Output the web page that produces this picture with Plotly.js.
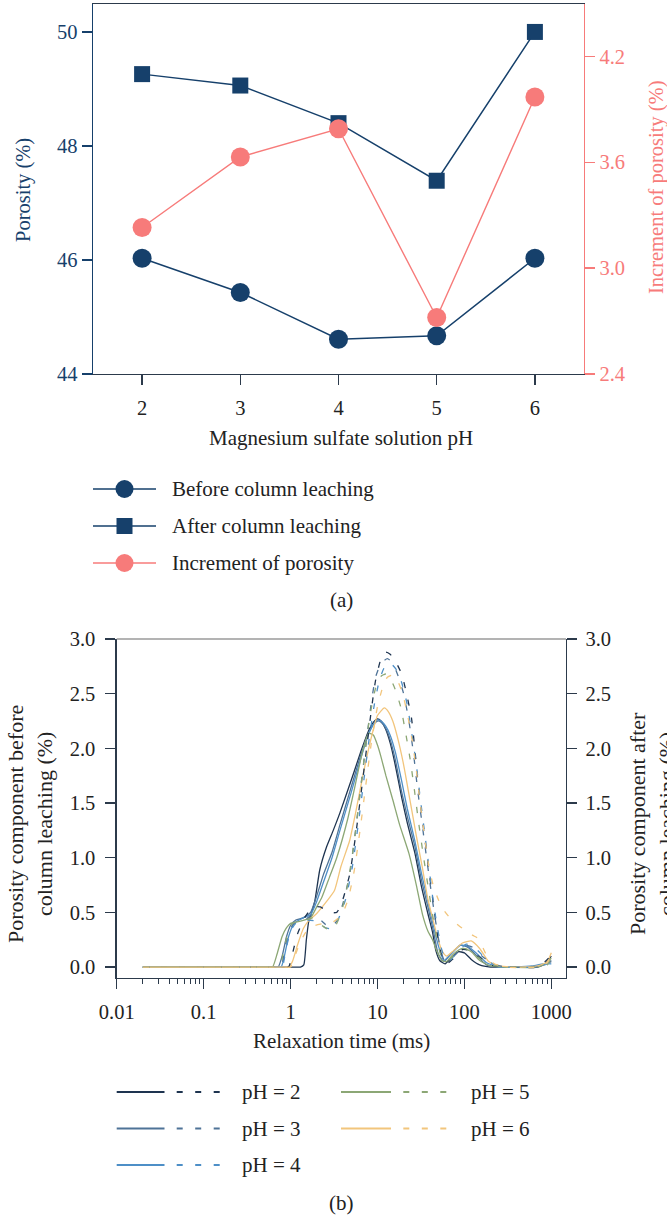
<!DOCTYPE html>
<html>
<head>
<meta charset="utf-8">
<script src="https://cdn.plot.ly/plotly-3.0.1.min.js"></script>
<style>
  html, body { margin: 0; padding: 0; background: #ffffff; }
  #chart { width: 667px; height: 1219px; }
</style>
</head>
<body>
<div id="chart"></div>
<script>
// ---------- (a) porosity vs. magnesium sulfate solution pH ----------
const phValues = [2, 3, 4, 5, 6];
const porosityBefore = [46.03, 45.43, 44.61, 44.67, 46.03];
const porosityAfter = [49.26, 49.06, 48.40, 47.39, 50.00];
const porosityIncrement = [3.23, 3.63, 3.79, 2.72, 3.97];
const seriesNamesA = ['Before column leaching', 'After column leaching', 'Increment of porosity'];

// ---------- (b) NMR T2 relaxation spectra ----------
const phLabels = ['pH = 2', 'pH = 3', 'pH = 4', 'pH = 5', 'pH = 6'];

const t2BeforePH2 = [0.02, 0.3, 1.0, 1.3, 1.42, 1.52, 1.62, 1.75, 1.9, 2.17, 2.6, 3.1, 3.7, 5, 6.5, 8, 9, 10, 11, 12.5, 14, 16, 19, 22, 27, 32, 38, 43, 47, 52, 60, 70, 85, 100, 120, 150, 200, 400, 700, 850, 1000];
const valBeforePH2 = [0, 0, 0, 0, 0.02, 0.25, 0.42, 0.5, 0.6, 0.89, 1.1, 1.25, 1.41, 1.71, 1.98, 2.17, 2.24, 2.27, 2.25, 2.17, 2.05, 1.85, 1.55, 1.32, 1.04, 0.74, 0.49, 0.32, 0.15, 0.06, 0.03, 0.08, 0.14, 0.13, 0.07, 0.02, 0, 0, 0, 0.03, 0.1];

const t2BeforePH3 = [0.02, 0.3, 0.6, 0.72, 0.8, 0.9, 1.0, 1.15, 1.4, 1.7, 2, 2.4, 3, 3.7, 5, 6.5, 8, 9, 10, 11, 12.5, 14, 16, 19, 22, 27, 32, 38, 44, 50, 58, 70, 90, 110, 140, 180, 250, 600, 800, 1000];
const valBeforePH3 = [0, 0, 0, 0, 0.1, 0.28, 0.38, 0.43, 0.45, 0.5, 0.65, 0.85, 1.05, 1.3, 1.65, 1.95, 2.15, 2.22, 2.25, 2.24, 2.18, 2.08, 1.9, 1.6, 1.38, 1.1, 0.8, 0.55, 0.33, 0.12, 0.05, 0.12, 0.2, 0.18, 0.1, 0.02, 0, 0, 0.02, 0.05];

const t2BeforePH4 = [0.02, 0.3, 0.65, 0.78, 0.85, 0.95, 1.1, 1.4, 1.7, 2, 2.4, 3, 3.7, 5, 6.5, 8, 9, 10, 11, 12.5, 14, 16, 19, 22, 27, 32, 38, 44, 50, 58, 70, 90, 110, 140, 180, 250, 600, 800, 1000];
const valBeforePH4 = [0, 0, 0, 0, 0.1, 0.28, 0.4, 0.45, 0.48, 0.6, 0.78, 1.0, 1.25, 1.6, 1.92, 2.14, 2.22, 2.26, 2.25, 2.2, 2.12, 1.97, 1.7, 1.45, 1.15, 0.86, 0.6, 0.38, 0.2, 0.06, 0.12, 0.2, 0.19, 0.12, 0.04, 0, 0.01, 0.03, 0.03];

const t2BeforePH5 = [0.02, 0.3, 0.52, 0.62, 0.7, 0.8, 0.9, 1.0, 1.3, 1.7, 2, 2.3, 2.8, 3.4, 4.5, 5.5, 6.5, 7.5, 8, 9, 10, 11, 12.5, 15, 18, 23, 28, 33, 38, 43, 48, 55, 62, 75, 95, 120, 150, 200, 300, 700, 850, 1000];
const valBeforePH5 = [0, 0, 0, 0, 0.12, 0.28, 0.36, 0.4, 0.42, 0.45, 0.55, 0.64, 0.82, 1.0, 1.34, 1.65, 1.92, 2.1, 2.14, 2.12, 2.03, 1.92, 1.75, 1.53, 1.3, 1.04, 0.75, 0.48, 0.33, 0.25, 0.15, 0.06, 0.05, 0.12, 0.17, 0.14, 0.06, 0.01, 0, 0, 0.03, 0.08];

const t2BeforePH6 = [0.02, 0.3, 0.8, 0.95, 1.05, 1.2, 1.4, 1.6, 2.0, 2.6, 3.2, 3.8, 4.8, 5.6, 7, 8.5, 10, 12, 13.5, 15, 17, 20, 24, 28, 33, 38, 43, 48, 55, 62, 75, 95, 120, 150, 190, 250, 400, 700, 900, 1000];
const valBeforePH6 = [0, 0, 0, 0, 0.05, 0.2, 0.35, 0.42, 0.49, 0.6, 0.7, 0.92, 1.16, 1.41, 1.8, 2.1, 2.3, 2.37, 2.33, 2.25, 2.1, 1.85, 1.5, 1.2, 0.9, 0.62, 0.45, 0.3, 0.15, 0.1, 0.15, 0.22, 0.24, 0.17, 0.05, 0.01, 0, 0.01, 0.05, 0.13];

const t2AfterPH2 = [0.02, 0.3, 0.8, 0.95, 1.05, 1.2, 1.45, 1.8, 2.2, 2.8, 3.4, 4, 4.8, 5.6, 6.5, 7.5, 8.5, 9.5, 11, 12.5, 14, 16, 19, 21.6, 24.6, 27, 29, 32, 36, 40, 45, 50, 56, 63, 75, 95, 120, 150, 200, 300, 700, 850, 1000];
const valAfterPH2 = [0, 0, 0, 0, 0.12, 0.3, 0.45, 0.55, 0.55, 0.5, 0.5, 0.62, 0.85, 1.2, 1.6, 2.0, 2.35, 2.62, 2.82, 2.88, 2.86, 2.8, 2.68, 2.5, 2.28, 1.98, 1.72, 1.42, 1.1, 0.82, 0.52, 0.25, 0.08, 0.03, 0.08, 0.16, 0.15, 0.09, 0.02, 0, 0, 0.05, 0.11];

const t2AfterPH3 = [0.02, 0.3, 0.65, 0.78, 0.85, 0.95, 1.1, 1.4, 1.8, 2.3, 2.8, 3.4, 4, 4.8, 5.6, 6.5, 7.5, 8.5, 9.5, 11, 13, 15, 17.5, 20, 23, 26, 29, 33, 37, 41, 46, 52, 58, 65, 80, 100, 125, 160, 210, 300, 700, 850, 1000];
const valAfterPH3 = [0, 0, 0, 0, 0.15, 0.32, 0.4, 0.42, 0.48, 0.42, 0.36, 0.42, 0.58, 0.85, 1.25, 1.68, 2.08, 2.42, 2.65, 2.78, 2.82, 2.78, 2.65, 2.5, 2.25, 1.95, 1.62, 1.28, 0.98, 0.72, 0.45, 0.2, 0.07, 0.05, 0.12, 0.2, 0.18, 0.1, 0.03, 0, 0, 0.02, 0.06];

const t2AfterPH4 = [0.02, 0.3, 0.68, 0.8, 0.88, 1.0, 1.15, 1.5, 2, 2.5, 3.0, 3.6, 4.3, 5.1, 6, 7, 8, 9.2, 10.5, 12, 14, 16.5, 19, 22, 25, 28, 31, 35, 39, 43, 48, 54, 60, 68, 85, 105, 130, 170, 220, 300, 700, 900, 1000];
const valAfterPH4 = [0, 0, 0, 0, 0.15, 0.33, 0.4, 0.43, 0.42, 0.36, 0.35, 0.45, 0.62, 0.9, 1.3, 1.72, 2.08, 2.4, 2.62, 2.74, 2.78, 2.72, 2.6, 2.4, 2.12, 1.85, 1.55, 1.22, 0.92, 0.65, 0.4, 0.18, 0.07, 0.06, 0.15, 0.21, 0.18, 0.09, 0.02, 0, 0, 0.03, 0.05];

const t2AfterPH5 = [0.02, 0.3, 0.63, 0.75, 0.82, 0.92, 1.05, 1.4, 1.8, 2.3, 2.8, 3.3, 3.9, 4.6, 5.4, 6.3, 7.2, 8.2, 9.5, 11, 12.5, 14, 16, 18.5, 21, 24, 27, 30, 34, 38, 43, 48, 54, 60, 75, 95, 120, 150, 200, 300, 700, 900, 1000];
const valAfterPH5 = [0, 0, 0, 0, 0.12, 0.3, 0.4, 0.42, 0.45, 0.38, 0.34, 0.38, 0.52, 0.78, 1.15, 1.58, 1.98, 2.3, 2.55, 2.66, 2.68, 2.64, 2.54, 2.38, 2.15, 1.88, 1.58, 1.3, 1.0, 0.75, 0.48, 0.25, 0.1, 0.05, 0.1, 0.17, 0.15, 0.08, 0.02, 0, 0, 0.02, 0.08];

const t2AfterPH6 = [0.02, 0.3, 0.85, 1.0, 1.1, 1.25, 1.5, 1.9, 2.5, 3.2, 3.9, 4.6, 5.4, 6.3, 7.3, 8.5, 10, 11.5, 13, 15, 17, 19.5, 22, 25, 28, 31, 35, 39, 44, 50, 58, 68, 80, 100, 125, 145, 165, 185, 220, 300, 700, 900, 1000];
const valAfterPH6 = [0, 0, 0, 0, 0.08, 0.2, 0.32, 0.38, 0.4, 0.42, 0.48, 0.62, 0.88, 1.25, 1.65, 2.05, 2.38, 2.56, 2.65, 2.67, 2.62, 2.5, 2.32, 2.08, 1.8, 1.5, 1.18, 0.92, 0.74, 0.62, 0.52, 0.45, 0.4, 0.34, 0.29, 0.26, 0.17, 0.09, 0.03, 0, 0, 0.04, 0.12];

const t2Before = [t2BeforePH2, t2BeforePH3, t2BeforePH4, t2BeforePH5, t2BeforePH6];
const valBefore = [valBeforePH2, valBeforePH3, valBeforePH4, valBeforePH5, valBeforePH6];
const t2After = [t2AfterPH2, t2AfterPH3, t2AfterPH4, t2AfterPH5, t2AfterPH6];
const valAfter = [valAfterPH2, valAfterPH3, valAfterPH4, valAfterPH5, valAfterPH6];

// ---------- styling ----------
const W = 667, H = 1219;
const fx = px => px / W;          // page pixel -> paper x
const fy = py => 1 - py / H;      // page pixel -> paper y
const FONT = 'Liberation Serif, Times New Roman, serif';
const NAVY = '#16406b';
const SALMON = '#f77b7a';
const INK = '#222222';
const FRAME = '#2c3a4b';
const phColors = ['#1e3450', '#4f7397', '#4e8fc7', '#8ca775', '#f2c57c'];
const TICK_SIZE = 20.5;
const TEXT_SIZE = 21;

const traces = [];

// panel (a)
traces.push({
  x: phValues, y: porosityBefore, xaxis: 'x', yaxis: 'y', type: 'scatter', mode: 'lines+markers',
  name: seriesNamesA[0], line: {color: NAVY, width: 1.5},
  marker: {symbol: 'circle', size: 19, color: NAVY}
});
traces.push({
  x: phValues, y: porosityAfter, xaxis: 'x', yaxis: 'y', type: 'scatter', mode: 'lines+markers',
  name: seriesNamesA[1], line: {color: NAVY, width: 1.5},
  marker: {symbol: 'square', size: 16, color: NAVY}
});
traces.push({
  x: phValues, y: porosityIncrement, xaxis: 'x', yaxis: 'y2', type: 'scatter', mode: 'lines+markers',
  name: seriesNamesA[2], line: {color: SALMON, width: 1.4},
  marker: {symbol: 'circle', size: 19, color: SALMON}
});

// panel (b): solid = before leaching (left axis), dashed = after leaching (right axis)
for (let i = 0; i < phLabels.length; i++) {
  traces.push({
    x: t2Before[i], y: valBefore[i], xaxis: 'x2', yaxis: 'y3', type: 'scatter', mode: 'lines',
    name: phLabels[i] + ' before', line: {color: phColors[i], width: 1.3, shape: 'spline', smoothing: 0.5}
  });
}
for (let i = 0; i < phLabels.length; i++) {
  traces.push({
    x: t2After[i], y: valAfter[i], xaxis: 'x2', yaxis: 'y4', type: 'scatter', mode: 'lines',
    name: phLabels[i] + ' after', line: {color: phColors[i], width: 1.3, dash: '6px,12px', shape: 'spline', smoothing: 0.5}
  });
}

// minor tick positions for the log axis
const minorTicks = [];
for (let d = -2; d < 3; d++) {
  for (let m = 2; m <= 9; m++) minorTicks.push(m * Math.pow(10, d));
}

const tickFont = c => ({family: FONT, size: TICK_SIZE, color: c});

const layout = {
  width: W, height: H,
  margin: {l: 0, r: 0, t: 0, b: 0},
  paper_bgcolor: '#ffffff', plot_bgcolor: '#ffffff',
  showlegend: false,
  font: {family: FONT, size: TEXT_SIZE, color: INK},

  xaxis: {
    domain: [fx(93), fx(584)], range: [1.5, 6.5], anchor: 'y',
    tickvals: phValues, ticks: 'outside', ticklen: 10, tickwidth: 1.3, tickcolor: FRAME,
    showline: true, linecolor: FRAME, linewidth: 1.3, mirror: true,
    showgrid: false, zeroline: false, tickfont: tickFont(INK), ticklabelstandoff: 5
  },
  yaxis: {
    domain: [fy(374), fy(4)], range: [44, 50.49],
    tickvals: [44, 46, 48, 50], ticks: 'outside', ticklen: 10, tickwidth: 1.3, tickcolor: NAVY,
    showline: true, linecolor: NAVY, linewidth: 1.3,
    showgrid: false, zeroline: false, tickfont: tickFont(NAVY)
  },
  yaxis2: {
    overlaying: 'y', side: 'right', anchor: 'x', range: [2.4, 4.497],
    tickvals: [2.4, 3.0, 3.6, 4.2], tickformat: '.1f', ticks: 'outside', ticklen: 10, tickwidth: 1.3, tickcolor: SALMON,
    showline: true, linecolor: SALMON, linewidth: 1.3,
    showgrid: false, zeroline: false, tickfont: tickFont(SALMON)
  },

  xaxis2: {
    domain: [fx(116.7), fx(566)], type: 'log', range: [-2, 3.169], anchor: 'y3',
    tickvals: [0.01, 0.1, 1, 10, 100, 1000], ticktext: ['0.01', '0.1', '1', '10', '100', '1000'],
    ticks: 'outside', ticklen: 10, tickwidth: 1.3, tickcolor: FRAME,
    minor: {tickvals: minorTicks, ticks: 'outside', ticklen: 5, tickwidth: 1, tickcolor: FRAME, showgrid: false},
    showline: true, linecolor: FRAME, linewidth: 1.3,
    showgrid: false, zeroline: false, tickfont: tickFont(INK), ticklabelstandoff: 5
  },
  yaxis3: {
    domain: [fy(978), fy(639)], range: [-0.1, 3.0], anchor: 'x2',
    tickvals: [0, 0.5, 1, 1.5, 2, 2.5, 3], tickformat: '.1f',
    ticks: 'outside', ticklen: 10, tickwidth: 1.3, tickcolor: FRAME,
    showline: true, linecolor: FRAME, linewidth: 1.3,
    showgrid: false, zeroline: false, tickfont: tickFont(INK), ticklabelstandoff: 6
  },
  yaxis4: {
    overlaying: 'y3', side: 'right', anchor: 'x2', range: [-0.1, 3.0],
    tickvals: [0, 0.5, 1, 1.5, 2, 2.5, 3], tickformat: '.1f',
    ticks: 'outside', ticklen: 10, tickwidth: 1.3, tickcolor: FRAME,
    showline: true, linecolor: FRAME, linewidth: 1.3,
    showgrid: false, zeroline: false, tickfont: tickFont(INK), ticklabelstandoff: 4
  },

  shapes: [], annotations: []
};

// light top border of panel (b)
layout.shapes.push({type: 'line', xref: 'x2 domain', yref: 'y3 domain', x0: 0, x1: 1, y0: 1, y1: 1,
  line: {color: '#9a9a9a', width: 1.3}});

function addText(text, px, py, opts) {
  layout.annotations.push(Object.assign({
    text: text, xref: 'paper', yref: 'paper', x: fx(px), y: fy(py),
    showarrow: false, xanchor: 'center', yanchor: 'middle',
    font: {family: FONT, size: TEXT_SIZE, color: INK}
  }, opts || {}));
}

// axis titles, panel (a)
addText('Porosity (%)', 23, 190, {textangle: -90, font: {family: FONT, size: 20.5, color: NAVY}});
addText('Increment of porosity (%)', 657, 188, {textangle: -90, font: {family: FONT, size: 20.5, color: SALMON}});
addText('Magnesium sulfate solution pH', 341, 438);

// legend, panel (a)
const legendRowsA = [489, 526, 563];
const legendMarkers = [
  {type: 'circle', color: NAVY, half: 9},
  {type: 'rect', color: NAVY, half: 8},
  {type: 'circle', color: SALMON, half: 9}
];
for (let i = 0; i < 3; i++) {
  const yy = fy(legendRowsA[i]);
  const c = legendMarkers[i].color;
  layout.shapes.push({type: 'line', xref: 'paper', yref: 'paper', x0: fx(93), x1: fx(156), y0: yy, y1: yy,
    line: {color: c, width: 1.6}});
  const h = legendMarkers[i].half;
  layout.shapes.push({type: legendMarkers[i].type, xref: 'paper', yref: 'paper',
    xsizemode: 'pixel', ysizemode: 'pixel', xanchor: fx(124.5), yanchor: yy,
    x0: -h, x1: h, y0: -h, y1: h, fillcolor: c, line: {color: c, width: 0}});
  addText(seriesNamesA[i], 170, legendRowsA[i], {xanchor: 'left'});
}
addText('(a)', 341, 600);

// axis titles, panel (b)
addText('Porosity component before<br>column leaching (%)', 30, 824, {textangle: -90, font: {family: FONT, size: 22, color: INK}});
addText('Porosity component after<br>column leaching (%)', 652, 824, {textangle: -90, font: {family: FONT, size: 22, color: INK}});
addText('Relaxation time (ms)', 341, 1041);

// legend, panel (b)
const legendSlotsB = [
  {col: 0, row: 0}, {col: 0, row: 1}, {col: 0, row: 2}, {col: 1, row: 0}, {col: 1, row: 1}
];
const colSolid = [[116.7, 164.5], [341, 391]];
const colDash = [[176.7, 220], [403.3, 449]];
const colText = [239.5, 469];
const rowY = [1092, 1128.5, 1165];
for (let i = 0; i < phLabels.length; i++) {
  const s = legendSlotsB[i];
  const yy = fy(rowY[s.row]);
  layout.shapes.push({type: 'line', xref: 'paper', yref: 'paper',
    x0: fx(colSolid[s.col][0]), x1: fx(colSolid[s.col][1]), y0: yy, y1: yy,
    line: {color: phColors[i], width: 2}});
  layout.shapes.push({type: 'line', xref: 'paper', yref: 'paper',
    x0: fx(colDash[s.col][0]), x1: fx(colDash[s.col][1]), y0: yy, y1: yy,
    line: {color: phColors[i], width: 2, dash: '6px,12.5px'}});
  addText(phLabels[i], colText[s.col], rowY[s.row], {xanchor: 'left'});
}
addText('(b)', 341, 1203);

Plotly.newPlot('chart', traces, layout, {staticPlot: true, displayModeBar: false});
</script>
</body>
</html>
